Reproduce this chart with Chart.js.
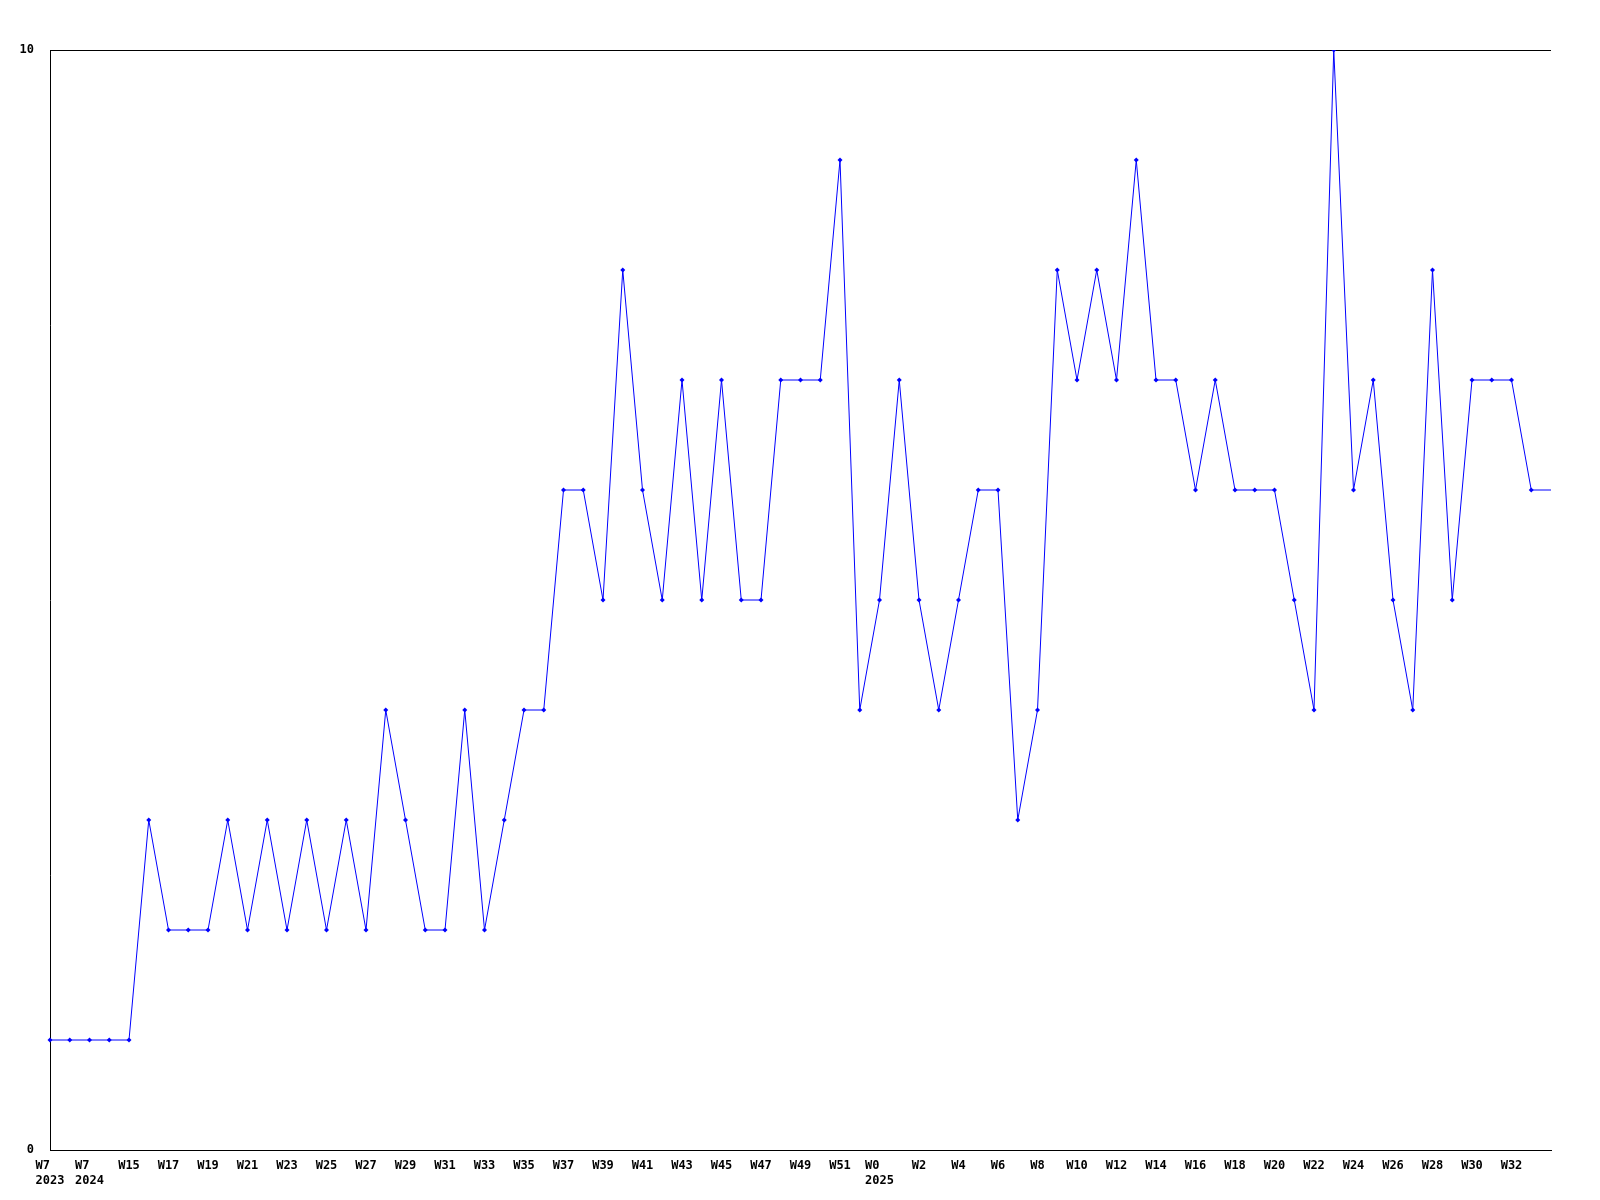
<!DOCTYPE html>
<html>
<head>
<meta charset="utf-8">
<script src="https://cdn.jsdelivr.net/npm/chart.js@4/dist/chart.umd.min.js"></script>
<style>
  body { margin: 0; background: #fff; }
  canvas { display: block; }
</style>
</head>
<body>
<canvas id="weekChart" width="1600" height="1200"></canvas>
<script>
// semaines (les libellés impairs ne sont pas affichés)
const weeks = [
    ["W7  ", "2023"], "W8", ["W7  ", "2024"], "W14",
    "W15", "W16", "W17", "W18", "W19", "W20", "W21", "W22", "W23", "W24",
    "W25", "W26", "W27", "W28", "W29", "W30", "W31", "W32", "W33", "W34",
    "W35", "W36", "W37", "W38", "W39", "W40", "W41", "W42", "W43", "W44",
    "W45", "W46", "W47", "W48", "W49", "W50", "W51", "W52",
    ["W0  ", "2025"], "W1", "W2", "W3", "W4", "W5", "W6", "W7", "W8", "W9",
    "W10", "W11", "W12", "W13", "W14", "W15", "W16", "W17", "W18", "W19",
    "W20", "W21", "W22", "W23", "W24", "W25", "W26", "W27", "W28", "W29",
    "W30", "W31", "W32", "W33", "W34"
];

const counts = [
    1, 1, 1, 1, 1, 3, 2, 2, 2, 3, 2, 3, 2, 3, 2, 3, 2, 4, 3, 2,
    2, 4, 2, 3, 4, 4, 6, 6, 5, 8, 6, 5, 7, 5, 7, 5, 5, 7, 7, 7,
    9, 4, 5, 7, 5, 4, 5, 6, 6, 3, 4, 8, 7, 8, 7, 9, 7, 7, 6, 7,
    6, 6, 6, 5, 4, 10, 6, 7, 5, 4, 8, 5, 7, 7, 7, 6, 6
];

const yTicks = [0, 10];

const font = { family: "'DejaVu Sans Mono', monospace", size: 12, weight: "bold", lineHeight: 1.25 };

// pas de marqueur sur le dernier point (bord droit)
const radii = counts.map((v, i) => i === counts.length - 1 ? 0 : 2.5);

const ctx = document.getElementById("weekChart").getContext("2d");

new Chart(ctx, {
    type: "line",
    data: {
        labels: weeks,
        datasets: [{
            data: counts,
            borderColor: "#0000ff",
            backgroundColor: "#0000ff",
            borderWidth: 1,
            tension: 0,
            pointStyle: "rectRot",
            pointRadius: radii,
            pointBorderWidth: 0,
            fill: false
        }]
    },
    options: {
        responsive: false,
        animation: false,
        layout: { padding: { left: 0, right: 49, top: 50, bottom: 0 } },
        plugins: {
            legend: { display: false },
            tooltip: { enabled: false }
        },
        scales: {
            x: {
                offset: false,
                grid: { display: false },
                border: { display: true, color: "#000", width: 1 },
                ticks: {
                    color: "#000",
                    font: font,
                    autoSkip: false,
                    maxRotation: 0,
                    minRotation: 0,
                    padding: 0,
                    callback: function (value, index) {
                        if (index % 2 !== 0 || index === weeks.length - 1) return "";
                        return this.getLabelForValue(value);
                    }
                },
                afterFit: function (scale) { scale.height = 50; }
            },
            y: {
                min: yTicks[0],
                max: yTicks[yTicks.length - 1],
                afterBuildTicks: function (scale) {
                    scale.ticks = yTicks.map(v => ({ value: v }));
                },
                grid: { color: "#000", drawTicks: false },
                border: { display: true, color: "#000", width: 1 },
                ticks: {
                    color: "#000",
                    font: font,
                    padding: 16
                },
                afterFit: function (scale) { scale.width = 50; }
            }
        }
    }
});
</script>
</body>
</html>
